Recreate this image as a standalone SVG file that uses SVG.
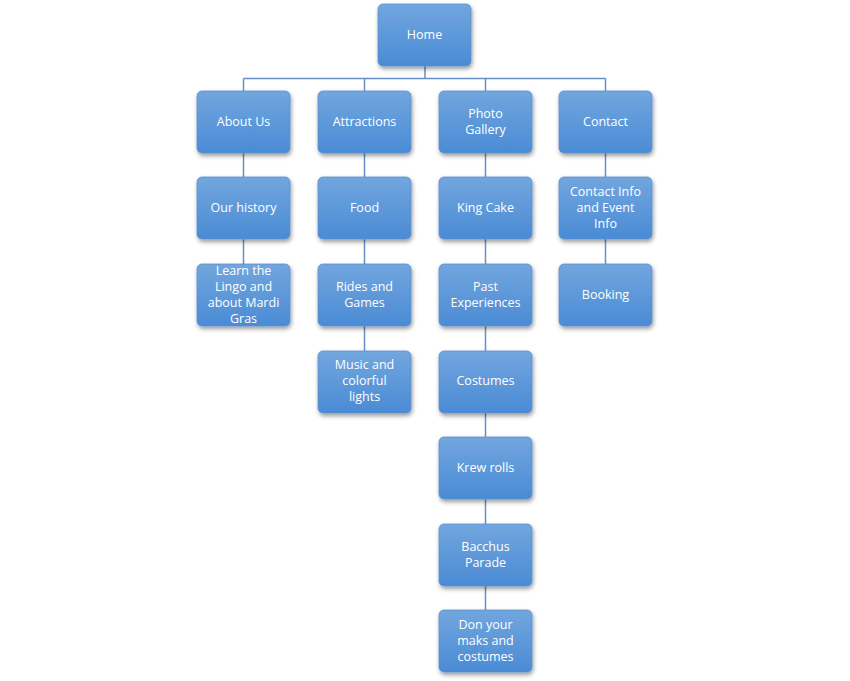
<svg xmlns="http://www.w3.org/2000/svg" width="850" height="681" viewBox="0 0 850 681">
<defs>
<linearGradient id="g" x1="0" y1="0" x2="0" y2="1">
<stop offset="0" stop-color="#72a6de"/>
<stop offset="1" stop-color="#4a8bd5"/>
</linearGradient>
<filter id="sh" x="-20%" y="-20%" width="140%" height="150%">
<feDropShadow dx="1" dy="2.5" stdDeviation="2" flood-color="#000" flood-opacity="0.4"/>
</filter>
</defs>
<style>
.n rect{fill:url(#g);stroke:#5a8fd0;stroke-width:0.8;filter:url(#sh)}
.n text{font-family:"Open Sans","Liberation Sans",sans-serif;font-size:12.5px;fill:#fff;text-anchor:middle}
.c{stroke:#6690c6;stroke-width:1.5;fill:none}
</style>
<rect width="850" height="681" fill="#fff"/>
<g id="connectors" class="c">
<path d="M425 66V78.5M243.5 78.5H605.5M243.5 78.5V91M364.5 78.5V91M485.5 78.5V91M605.5 78.5V91"/>
<path d="M243.5 153V177M243.5 239V264"/>
<path d="M364.5 153V177M364.5 239V264M364.5 326V351"/>
<path d="M485.5 153V177M485.5 239V264M485.5 326V351M485.5 413V437M485.5 499V524M485.5 586V610"/>
<path d="M605.5 153V177M605.5 239V264"/>
</g>
<g id="home" class="n"><rect x="378" y="4" width="93" height="62" rx="5"/><text x="424.5" y="39">Home</text></g>
<g id="about" class="n"><rect x="197" y="91" width="93" height="62" rx="5"/><text x="243.5" y="126">About Us</text></g>
<g id="attractions" class="n"><rect x="318" y="91" width="93" height="62" rx="5"/><text x="364.5" y="126">Attractions</text></g>
<g id="photo" class="n"><rect x="439" y="91" width="93" height="62" rx="5"/><text x="485.5" y="118">Photo</text><text x="485.5" y="134">Gallery</text></g>
<g id="contact" class="n"><rect x="559" y="91" width="93" height="62" rx="5"/><text x="605.5" y="126">Contact</text></g>
<g id="history" class="n"><rect x="197" y="177" width="93" height="62" rx="5"/><text x="243.5" y="212">Our history</text></g>
<g id="food" class="n"><rect x="318" y="177" width="93" height="62" rx="5"/><text x="364.5" y="212">Food</text></g>
<g id="kingcake" class="n"><rect x="439" y="177" width="93" height="62" rx="5"/><text x="485.5" y="212">King Cake</text></g>
<g id="contactinfo" class="n"><rect x="559" y="177" width="93" height="62" rx="5"/><text x="605.5" y="196">Contact Info</text><text x="605.5" y="212">and Event</text><text x="605.5" y="228">Info</text></g>
<g id="lingo" class="n"><rect x="197" y="264" width="93" height="62" rx="5"/><text x="243.5" y="275">Learn the</text><text x="243.5" y="291">Lingo and</text><text x="243.5" y="307">about Mardi</text><text x="243.5" y="323">Gras</text></g>
<g id="rides" class="n"><rect x="318" y="264" width="93" height="62" rx="5"/><text x="364.5" y="291">Rides and</text><text x="364.5" y="307">Games</text></g>
<g id="past" class="n"><rect x="439" y="264" width="93" height="62" rx="5"/><text x="485.5" y="291">Past</text><text x="485.5" y="307">Experiences</text></g>
<g id="booking" class="n"><rect x="559" y="264" width="93" height="62" rx="5"/><text x="605.5" y="299">Booking</text></g>
<g id="music" class="n"><rect x="318" y="351" width="93" height="62" rx="5"/><text x="364.5" y="369">Music and</text><text x="364.5" y="385">colorful</text><text x="364.5" y="401">lights</text></g>
<g id="costumes" class="n"><rect x="439" y="351" width="93" height="62" rx="5"/><text x="485.5" y="385">Costumes</text></g>
<g id="krew" class="n"><rect x="439" y="437" width="93" height="62" rx="5"/><text x="485.5" y="472">Krew rolls</text></g>
<g id="bacchus" class="n"><rect x="439" y="524" width="93" height="62" rx="5"/><text x="485.5" y="551">Bacchus</text><text x="485.5" y="567">Parade</text></g>
<g id="don" class="n"><rect x="439" y="610" width="93" height="62" rx="5"/><text x="485.5" y="629">Don your</text><text x="485.5" y="645">maks and</text><text x="485.5" y="661">costumes</text></g>
</svg>
